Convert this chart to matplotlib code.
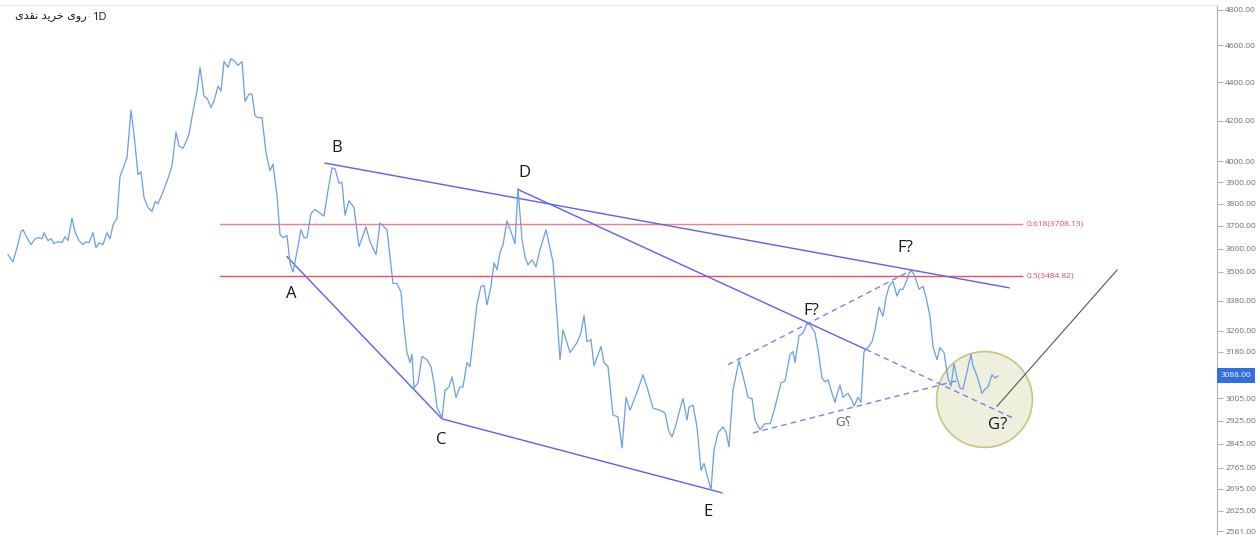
import matplotlib
matplotlib.use("Agg")
import matplotlib.pyplot as plt
import matplotlib.transforms as mtransforms
from matplotlib.ticker import NullLocator

# daily close (day index, price)
day = [8, 13, 17, 21, 23, 27, 31, 35, 39, 42, 44, 48, 51, 54, 58, 62, 65, 68, 72, 75,
       79, 83, 86, 89, 93, 96, 99, 103, 107, 110, 113, 117, 120, 124, 127, 131, 134, 138, 141, 144,
       148, 152, 155, 158, 162, 165, 168, 172, 176, 179, 183, 186, 189, 193, 197, 200, 204, 207, 211, 214,
       218, 221, 224, 228, 231, 235, 238, 242, 245, 249, 252, 255, 258, 262, 266, 270, 273, 277, 280, 283,
       287, 290, 293, 297, 301, 304, 307, 311, 315, 320, 324, 328, 332, 335, 339, 342, 345, 349, 354, 359,
       366, 370, 376, 380, 387, 393, 397, 401, 404, 407, 410, 412, 414, 418, 422, 427, 431, 434, 437, 442,
       445, 449, 452, 456, 460, 463, 467, 470, 473, 477, 481, 484, 487, 491, 494, 497, 500, 503, 507, 512,
       515, 518, 522, 525, 528, 532, 536, 540, 546, 553, 557, 560, 563, 570, 577, 581, 584, 587, 591, 594,
       601, 604, 608, 613, 618, 622, 626, 630, 633, 637, 643, 647, 653, 660, 665, 669, 672, 676, 681, 683,
       687, 689, 693, 697, 701, 704, 707, 711, 714, 718, 723, 726, 729, 733, 739, 744, 748, 752, 755, 760,
       765, 770, 774, 781, 785, 790, 793, 795, 799, 803, 807, 810, 815, 818, 822, 825, 828, 832, 835, 837,
       840, 843, 848, 852, 854, 858, 861, 864, 868, 872, 875, 879, 883, 886, 889, 893, 897, 900, 903, 907,
       909, 912, 915, 919, 923, 926, 930, 933, 937, 940, 944, 948, 951, 954, 957, 960, 963, 967, 971, 973,
       977, 982, 985, 988, 992, 995, 998]
price = [3574, 3543, 3604, 3674, 3683, 3648, 3617, 3643, 3648, 3643, 3670, 3635, 3643, 3622, 3630, 3626, 3652, 3635, 3735, 3674,
         3635, 3617, 3630, 3626, 3670, 3604, 3626, 3617, 3670, 3643, 3704, 3735, 3927, 3977, 4016, 4253, 4132, 3936, 3950, 3829,
         3783, 3765, 3810, 3800, 3843, 3881, 3918, 3977, 4142, 4074, 4063, 4095, 4132, 4247, 4353, 4479, 4326, 4316, 4268, 4300,
         4379, 4353, 4511, 4479, 4526, 4511, 4490, 4511, 4300, 4337, 4337, 4226, 4216, 4216, 4042, 3955, 3986, 3838, 3661, 3648,
         3657, 3539, 3500, 3587, 3683, 3648, 3648, 3757, 3774, 3757, 3744, 3862, 3968, 3964, 3895, 3900, 3748, 3814, 3783, 3609,
         3696, 3630, 3574, 3713, 3683, 3452, 3452, 3416, 3277, 3176, 3138, 3169, 3043, 3062, 3161, 3149, 3122, 3062, 2974, 2935,
         3035, 3047, 3084, 3009, 3047, 3047, 3138, 3123, 3226, 3368, 3440, 3444, 3364, 3440, 3539, 3509, 3583, 3617, 3722, 3661,
         3622, 3871, 3639, 3565, 3530, 3552, 3522, 3596, 3683, 3543, 3318, 3149, 3264, 3176, 3214, 3252, 3322, 3218, 3226, 3126,
         3199, 3138, 3123, 2946, 2939, 2831, 3009, 2963, 2991, 3028, 3092, 3047, 2970, 2963, 2953, 2887, 2869, 2911, 2981, 3005,
         2928, 2974, 2981, 2904, 2755, 2779, 2740, 2692, 2824, 2883, 2904, 2887, 2835, 3035, 3145, 3073, 3009, 3005, 2928, 2894,
         2915, 2915, 2960, 3062, 3069, 3169, 3180, 3138, 3241, 3252, 3289, 3285, 3252, 3188, 3080, 3066, 3073, 3024, 2991, 3020,
         3054, 3009, 3024, 2998, 2977, 3009, 2991, 3180, 3195, 3218, 3264, 3355, 3318, 3392, 3440, 3460, 3400, 3428, 3428, 3468,
         3496, 3504, 3480, 3428, 3440, 3396, 3318, 3199, 3149, 3195, 3176, 3080, 3050, 3134, 3080, 3043, 3039, 3103, 3169, 3126,
         3088, 3024, 3039, 3047, 3092, 3080, 3088]

last_price = 3088.00
axis_ticks = [4800, 4600, 4400, 4200, 4000, 3900, 3800, 3700, 3600, 3500,
              3380, 3260, 3180, 3005, 2925, 2845, 2765, 2695, 2625, 2561]

fib_ratio = [0.618, 0.5]
fib_price = [3708.13, 3484.82]
fib_span = (220, 1022)

# wave pivots (day, price)
pt_A = (287, 3565)
pt_B = (325, 3991)
pt_C = (442, 2932)
pt_D = (518, 3866)
pt_E = (722, 2682)
upper_end = (1009, 3434)
df_break = (866, 3188)
df_end = (1013, 2935)
chan_top = [(728, 3130), (912, 3508)]
chan_bot = [(753, 2883), (960, 3073)]
target = [(997, 2977), (1117, 3508)]
zone_center = (984, 3003)

wave_names = ["A", "B", "C", "D", "E", "F?", "F?", "G?"]
wave_label_day = [291, 337, 441, 524, 708, 811, 905, 998]
wave_label_price = [3408, 4063, 2859, 3946, 2622, 3339, 3604, 2911]

title_fa = "\uFEEF\uFEAA\uFED8\uFEE7 \uFEAA\uFEF3\uFEAE\uFEA7 \uFEEF\uFEED\uFEAD"

fig = plt.figure(figsize=(12.6, 5.35), dpi=100)
ax = fig.add_axes([0, 0, 1217 / 1260, 1 - 5 / 535])
ax.set_yscale("log")
ax.set_xlim(0, 1217)
ax.set_ylim(2549, 4829)

trend = "#5f5ff0"
dash = "#7d7df2"

# highlighted zone
ax.plot([zone_center[0]], [zone_center[1]], marker="o", markersize=69,
        mfc="#efefdd", mec="#c9c47e", mew=1.2, zorder=1)

# fibonacci levels
for r, p, a in zip(fib_ratio, fib_price, [0.65, 0.9]):
    ax.plot(fib_span, [p, p], color="#f23645", lw=1, alpha=a, zorder=2)
    ax.text(fib_span[1] + 5, p, f"{r}({p:.2f})", color="#f23645", fontsize=6,
            va="center", ha="left", alpha=0.9, family="Open Sans")

# trend lines
ax.plot([pt_A[0], pt_C[0], pt_E[0]], [pt_A[1], pt_C[1], pt_E[1]], color=trend, lw=1, zorder=3)
ax.plot([pt_B[0], upper_end[0]], [pt_B[1], upper_end[1]], color=trend, lw=1, zorder=3)
ax.plot([pt_D[0], df_break[0]], [pt_D[1], df_break[1]], color=trend, lw=1, zorder=3)
ax.plot([df_break[0], df_end[0]], [df_break[1], df_end[1]], color=dash, lw=1,
        ls=(0, (4, 3)), zorder=3)
for seg in (chan_top, chan_bot):
    ax.plot([seg[0][0], seg[1][0]], [seg[0][1], seg[1][1]], color=dash, lw=1,
            ls=(0, (4, 3)), zorder=3)
ax.plot([target[0][0], target[1][0]], [target[0][1], target[1][1]], color="#555555", lw=0.8, zorder=3)

# price
ax.plot(day, price, color="#6a9ee8", lw=0.9, zorder=4)

for name, d, p in zip(wave_names, wave_label_day, wave_label_price):
    ax.text(d, p, name, fontsize=12, ha="center", va="center", color="#131722",
            family="Open Sans", zorder=5)
ax.text(843, 2921, "G\u061F", fontsize=9, ha="center", va="center", color="#666666",
        family=["DejaVu Sans"], zorder=5)

# right price scale
ax.yaxis.tick_right()
ax.yaxis.set_minor_locator(NullLocator())
ax.set_yticks(axis_ticks)
ax.set_yticklabels([f"{v:.2f}" for v in axis_ticks])
ax.tick_params(axis="y", which="major", length=4, width=0.8, color="#b0b3bb",
               labelsize=6.0, labelcolor="#6a6d78", pad=2)
for lab in ax.get_yticklabels():
    lab.set_family("Open Sans")
ax.set_xticks([])
for s in ("left", "bottom"):
    ax.spines[s].set_visible(False)
ax.spines["right"].set_color("#b0b3bb")
ax.spines["top"].set_color("#e6e7ea")

trans = mtransforms.blended_transform_factory(ax.transAxes, ax.transData)
ax.text(1.003, last_price, f"{last_price:.2f}", transform=trans, color="white",
        fontsize=6.0, ha="left", va="center", family="Open Sans",
        bbox=dict(facecolor="#2f6fe0", edgecolor="none", pad=2.8), zorder=6)

fig.text(15 / 1260, 1 - 17 / 535, title_fa, fontsize=8, color="#131722",
         family=["DejaVu Sans"], va="center", ha="left")
fig.text(87 / 1260, 1 - 17 / 535, "\u00b7", fontsize=8, color="#b0b3bb", va="center")
fig.text(92 / 1260, 1 - 17 / 535, "1D", fontsize=8, color="#131722", va="center",
         family="Open Sans")

fig.savefig("out.png", dpi=100)
